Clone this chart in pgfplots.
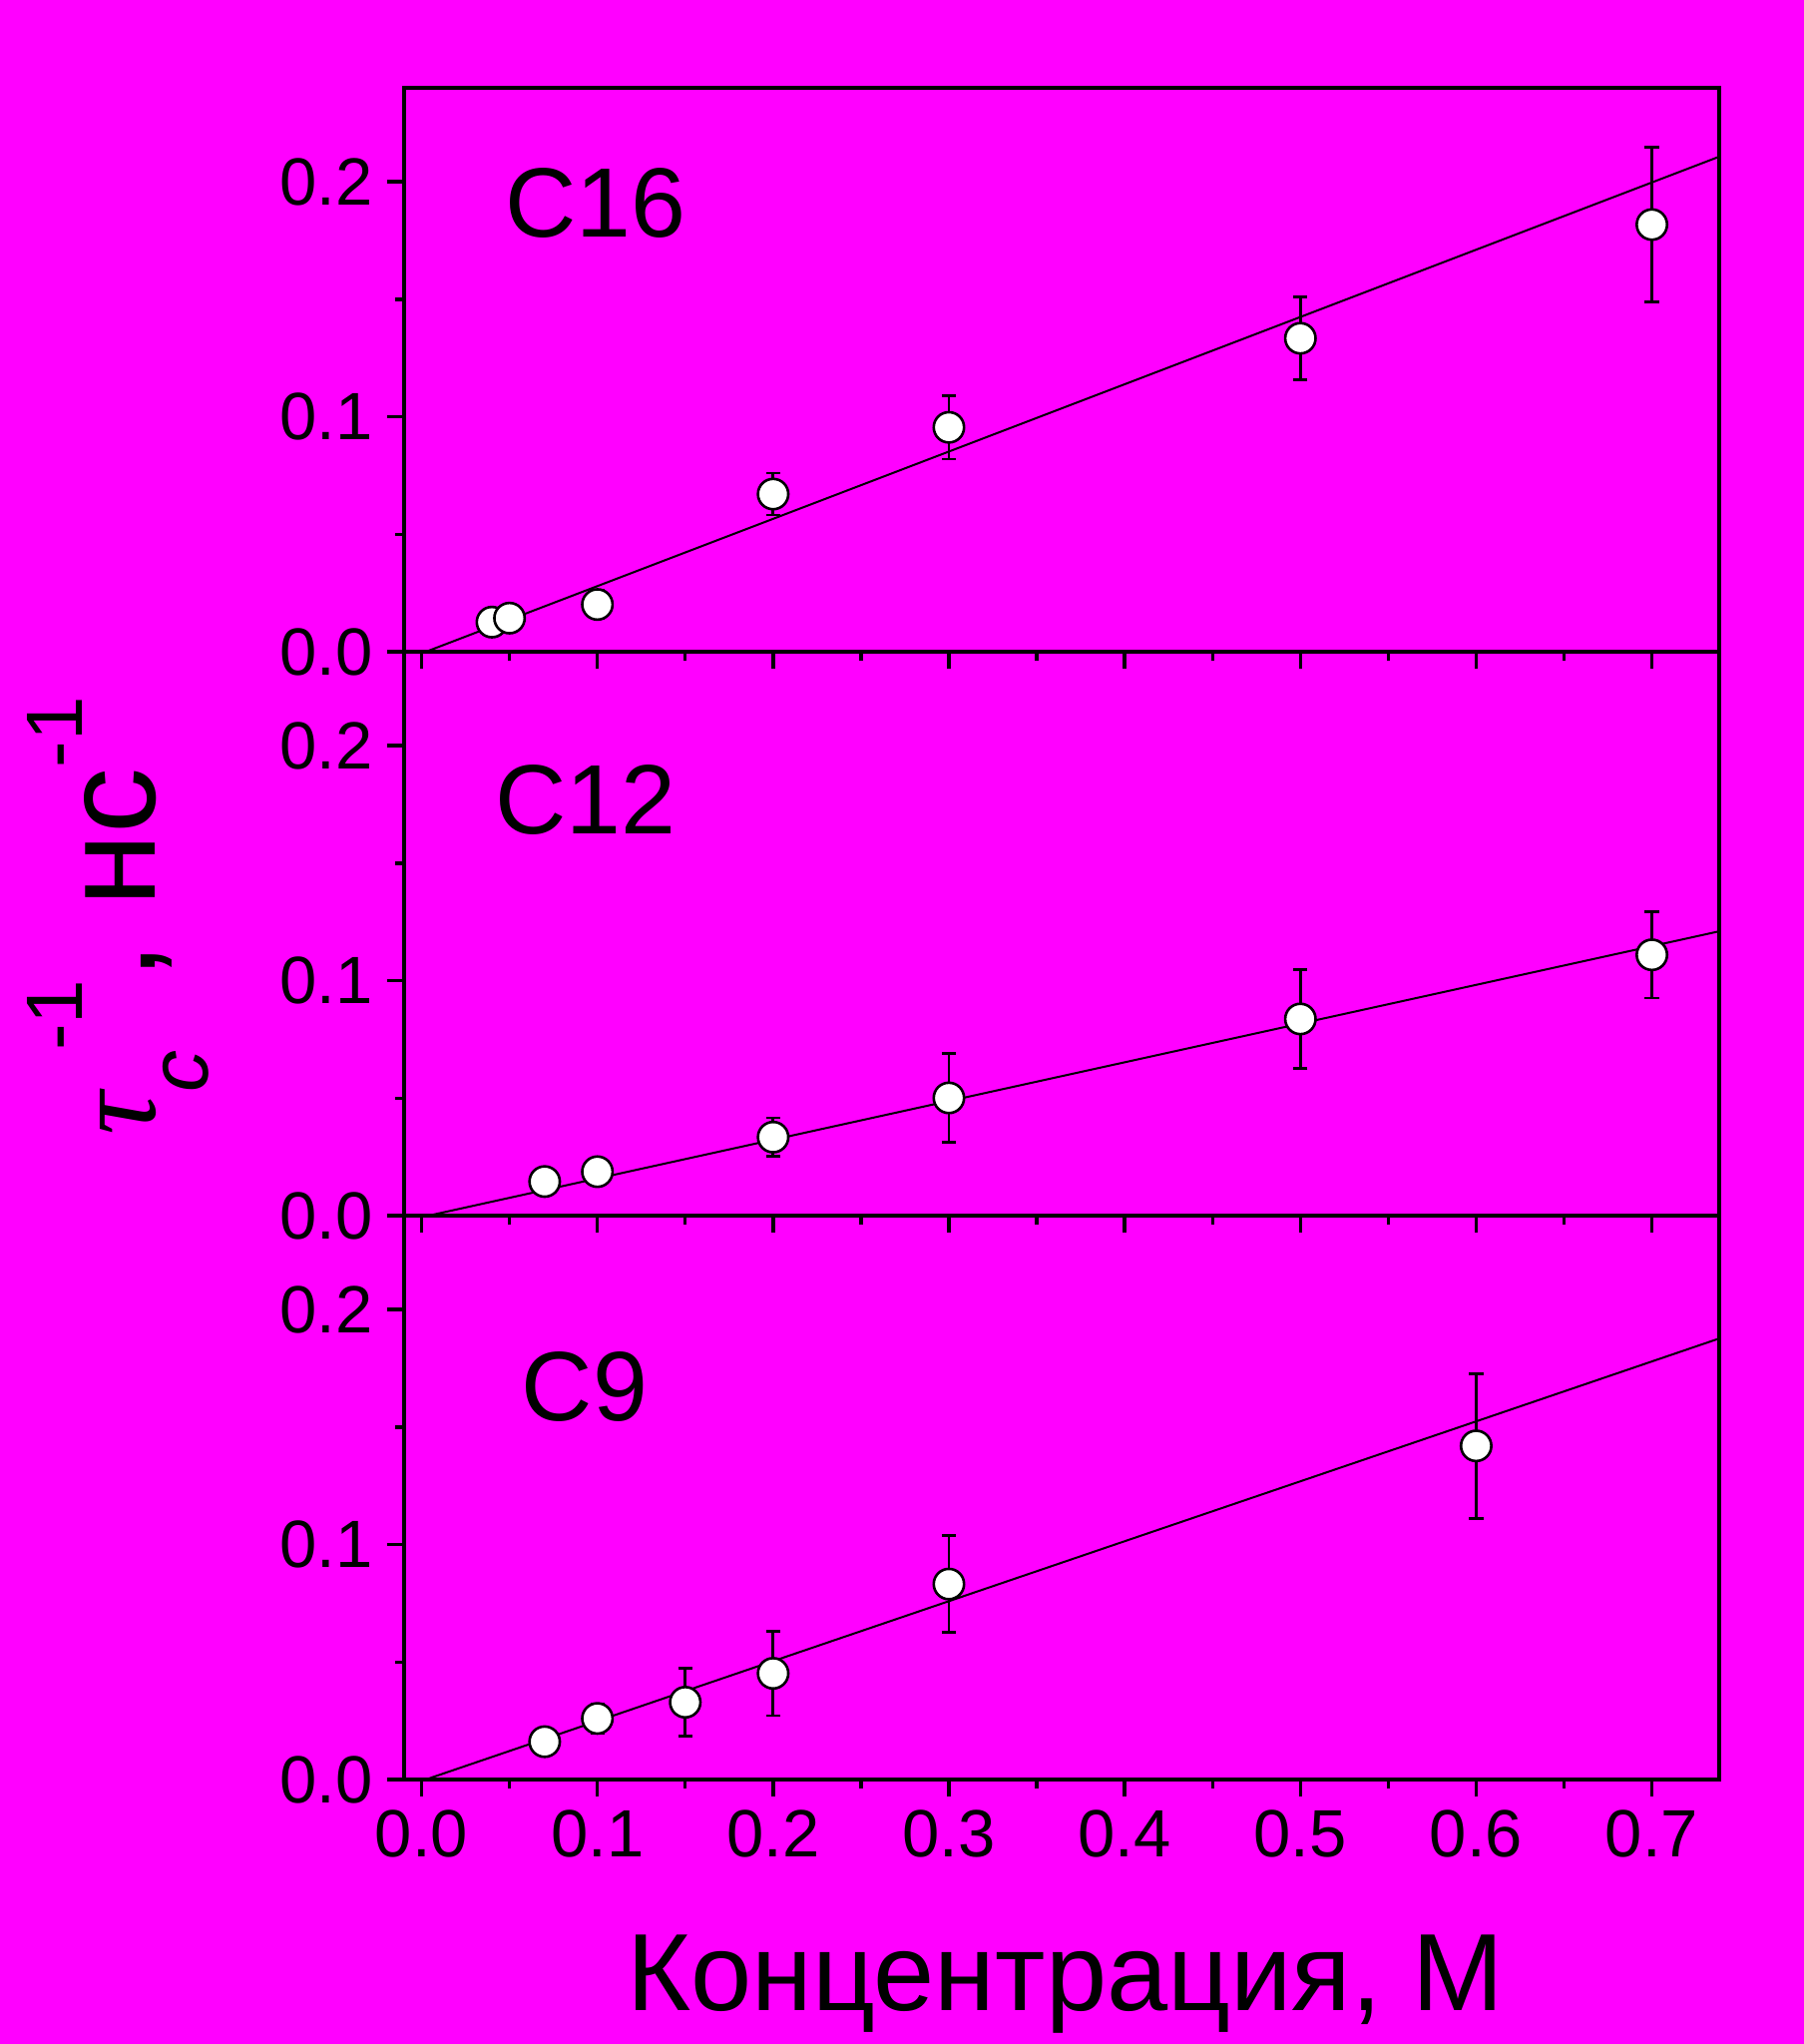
\documentclass[border=0pt]{standalone}
\usepackage{pgfplots}
\usepackage{pgfplotstable}
\pgfplotsset{compat=1.18}
\usepackage{fontspec}
\setmainfont{Liberation Sans}
\newfontfamily\serifgr{Liberation Serif}
\definecolor{bgmag}{RGB}{255,0,255}

\pgfplotstableread{
x y e
0.04 0.0126 0.0030
0.05 0.0143 0.0026
0.10 0.0201 0.0060
0.20 0.0671 0.0089
0.30 0.0955 0.0135
0.50 0.1334 0.0177
0.70 0.1818 0.0329
}\dataA
\pgfplotstableread{
x y e
0.07 0.0145 0.0034
0.10 0.0187 0.0045
0.20 0.0334 0.0082
0.30 0.0501 0.0190
0.50 0.0837 0.0209
0.70 0.1110 0.0184
}\dataB
\pgfplotstableread{
x y e
0.07 0.0161 0.0057
0.10 0.0260 0.0062
0.15 0.0329 0.0145
0.20 0.0452 0.0180
0.30 0.0832 0.0207
0.60 0.1420 0.0308
}\dataC

\pgfplotsset{
  panel/.style={
    scale only axis, width=329.6pt, height=141.25pt,
    xmin=-0.0102, xmax=0.7383, ymin=0, ymax=0.24,
    anchor=south west,
    axis line style={line width=0.95pt},
    every tick/.style={black, line width=0.85pt},
    major tick length=4.25pt, minor tick length=2.25pt,
    tick align=outside, tick pos=left,
    xtick={0,0.1,0.2,0.3,0.4,0.5,0.6,0.7}, ytick={0,0.1,0.2},
    minor x tick num=1, minor y tick num=1,
    ticklabel style={font=\fontsize{16.75}{18}\selectfont},
    /pgf/number format/assume math mode=true,
    xticklabel style={/pgf/number format/.cd, fixed, fixed zerofill, precision=1},
    yticklabel style={/pgf/number format/.cd, fixed, fixed zerofill, precision=1},
    clip=false,
  },
  pts/.style={only marks, mark=*, mark size=3.8pt,
    mark options={fill=white, draw=black, line width=0.65pt},
    error bars/.cd, y dir=both, y explicit,
    error bar style={line width=0.7pt, black},
    error mark options={rotate=90, mark size=1.8pt, line width=0.7pt, black}},
  fit/.style={black, line width=0.5pt, no marks},
}
\tikzset{lab/.style={font=\fontsize{24.7}{26}\selectfont, anchor=base}}

\begin{document}
\begin{tikzpicture}
\path[use as bounding box, fill=bgmag] (0,0) rectangle (452pt,512pt);

\begin{axis}[panel, at={(101.15pt,348.75pt)}, xticklabel=\empty]
\addplot[fit] coordinates {(0.0025,0) (0.7383,0.2107)};
\addplot[pts] table[x=x, y=y, y error=e] {\dataA};
\node[lab] at (axis cs:0.099,0.1767) {C16};
\end{axis}

\begin{axis}[panel, at={(101.15pt,207.5pt)}, xticklabel=\empty]
\addplot[fit] coordinates {(0.004,0) (0.7383,0.121)};
\addplot[pts] table[x=x, y=y, y error=e] {\dataB};
\node[lab] at (axis cs:0.0932,0.1623) {C12};
\end{axis}

\begin{axis}[panel, at={(101.15pt,66.25pt)}]
\addplot[fit] coordinates {(0.0024,0) (0.7383,0.1877)};
\addplot[pts] table[x=x, y=y, y error=e] {\dataC};
\node[lab] at (axis cs:0.0928,0.1526) {C9};
\end{axis}

\node[anchor=base, inner sep=0pt, font=\fontsize{27.5}{30}\selectfont] at (266.9pt,8.4pt) {Концентрация, М};

\node[rotate=90, anchor=base, inner sep=0pt] at (38.75pt,282.5pt) {%
  {\serifgr\itshape\fontsize{30}{30}\selectfont τ}%
  \raisebox{-13.25pt}{\fontsize{21}{21}\selectfont\itshape c}%
  \raisebox{18.25pt}{\fontsize{20}{20}\selectfont -1}%
  {\fontsize{33}{33}\selectfont , нс}%
  \raisebox{18.25pt}{\fontsize{20}{20}\selectfont -1}};
\end{tikzpicture}
\end{document}
